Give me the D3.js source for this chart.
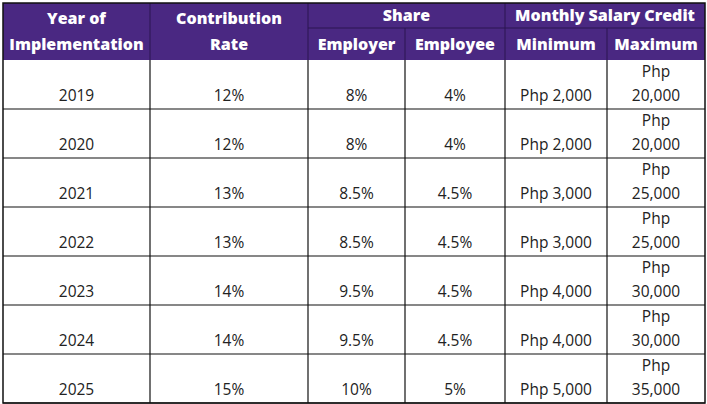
<!DOCTYPE html>
<html><head><meta charset="utf-8">
<script src="https://cdn.jsdelivr.net/npm/d3@7"></script>
<style>body{margin:0;background:#fff}</style></head>
<body><svg width="707" height="404"></svg>
<script>
// data
const years = ["2019","2020","2021","2022","2023","2024","2025"];
const rates = ["12%","12%","13%","13%","14%","14%","15%"];
const employer = ["8%","8%","8.5%","8.5%","9.5%","9.5%","10%"];
const employee = ["4%","4%","4.5%","4.5%","4.5%","4.5%","5%"];
const minimum = ["Php 2,000","Php 2,000","Php 3,000","Php 3,000","Php 4,000","Php 4,000","Php 5,000"];
const maximum = ["20,000","20,000","25,000","25,000","30,000","30,000","35,000"];

const colEdges = [3, 150, 308, 405, 505, 607, 705];
const purple = "#4a2882";
const svg = d3.select("svg");

const y = d3.scaleBand().domain(years).range([60, 403]);
const rowH = y.bandwidth();

// header
svg.append("rect").attr("x", 3).attr("y", 3).attr("width", 702).attr("height", 57).attr("fill", purple);
const hdr = svg.append("g").style("font-family", "'Open Sans', sans-serif")
  .style("font-weight", "800").style("font-size", "16px").attr("fill", "#fff").attr("text-anchor", "middle");
const mid = i => (colEdges[i] + colEdges[i + 1]) / 2;
hdr.append("text").attr("x", mid(0)).attr("y", 24).text("Year of");
hdr.append("text").attr("x", mid(0)).attr("y", 50).text("Implementation");
hdr.append("text").attr("x", mid(1)).attr("y", 24).text("Contribution");
hdr.append("text").attr("x", mid(1)).attr("y", 50).text("Rate");
hdr.append("text").attr("x", (colEdges[2] + colEdges[4]) / 2).attr("y", 21).text("Share");
hdr.append("text").attr("x", (colEdges[4] + colEdges[6]) / 2).attr("y", 21).text("Monthly Salary Credit");
["Employer","Employee","Minimum","Maximum"].forEach((t, k) =>
  hdr.append("text").attr("x", mid(k + 2)).attr("y", 50).text(t));

// header lines
const hl = svg.append("g").attr("stroke", "#2a1550").attr("stroke-width", 1);
hl.append("line").attr("x1", colEdges[2]).attr("x2", 705).attr("y1", 28).attr("y2", 28);
[1, 2, 4].forEach(i => hl.append("line").attr("x1", colEdges[i]).attr("x2", colEdges[i]).attr("y1", 3).attr("y2", 60));
[3, 5].forEach(i => hl.append("line").attr("x1", colEdges[i]).attr("x2", colEdges[i]).attr("y1", 28).attr("y2", 60));

// body
const body = svg.append("g").style("font-family", "'Open Sans', sans-serif")
  .style("font-size", "15.5px").attr("fill", "#222").attr("text-anchor", "middle");
years.forEach((yr, i) => {
  const by = y(yr) + rowH - 8;
  const vals = [yr, rates[i], employer[i], employee[i], minimum[i], maximum[i]];
  vals.forEach((v, c) => body.append("text").attr("x", mid(c)).attr("y", by).text(v));
  body.append("text").attr("x", mid(5)).attr("y", by - 24).text("Php");
});

const grid = svg.append("g").attr("stroke", "#111").attr("stroke-width", 1.2);
years.forEach(yr => grid.append("line").attr("x1", 3).attr("x2", 705).attr("y1", y(yr) + rowH).attr("y2", y(yr) + rowH));
colEdges.slice(1, 6).forEach(x => grid.append("line").attr("x1", x).attr("x2", x).attr("y1", 60).attr("y2", 403));
svg.append("rect").attr("x", 3).attr("y", 3).attr("width", 702).attr("height", 400)
  .attr("fill", "none").attr("stroke", "#111").attr("stroke-width", 1.5);
</script></body></html>
